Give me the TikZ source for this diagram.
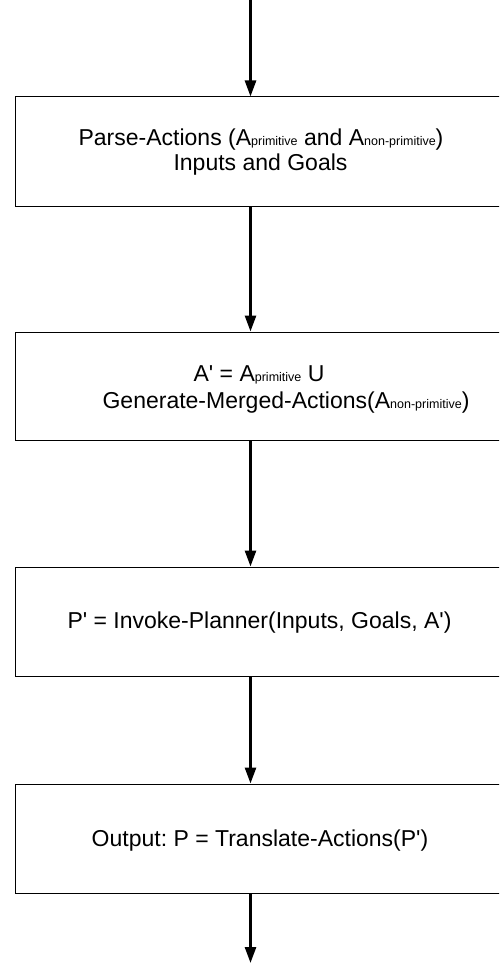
\documentclass[tikz,border=0pt]{standalone}
\usepackage{fontspec}
\newfontfamily\flowfont{Liberation Sans}
\usetikzlibrary{arrows.meta}
% small inline index text such as "primitive"
\newcommand{\idx}[1]{{\fontsize{12.5}{14}\selectfont #1}}
\frenchspacing
\begin{document}
\begin{tikzpicture}[x=1pt,y=-1pt,
  stage/.style={draw=black, line width=1pt, rectangle,
    minimum width=492pt, inner sep=0pt},
  txt/.style={anchor=base, inner sep=0pt,
    font=\flowfont\fontsize{23}{25}\selectfont},
  flow/.style={line width=2.7pt, -{Triangle[length=16pt,width=11pt]}}]
\useasboundingbox (0,0) rectangle (499,963);
\clip (0,0) rectangle (499,963);

% stages
\node[stage, minimum height=109pt] (parse)   at (261,151.5) {};
\node[stage, minimum height=108pt] (merge)   at (261,386)   {};
\node[stage, minimum height=109pt] (plan)    at (261,621.5) {};
\node[stage, minimum height=109pt] (output)  at (261,838.5) {};

% texts
\node[txt] (parse1) at (261,145) {Parse-Actions (A\idx{primitive} and A\idx{non-primitive})};
\node[txt] (parse2) at (260.5,170) {Inputs and Goals};
\node[txt] (merge1) at (259,381) {A' = A\idx{primitive} U};
\node[txt] (merge2) at (286,408) {Generate-Merged-Actions(A\idx{non-primitive})};
\node[txt] (plan1) at (259.5,628) {P' = Invoke-Planner(Inputs, Goals, A')};
\node[txt] (out1) at (260,846) {Output: P = Translate-Actions(P')};

% connectors
\coordinate (start) at (250.5,0);
\coordinate (finish) at (250.5,963);
\draw[flow] (start) -- (parse.north -| start);
\draw[flow] (parse.south -| start) -- (merge.north -| start);
\draw[flow] (merge.south -| start) -- (plan.north -| start);
\draw[flow] (plan.south -| start) -- (output.north -| start);
\draw[flow] (output.south -| start) -- (finish);
\end{tikzpicture}
\end{document}
